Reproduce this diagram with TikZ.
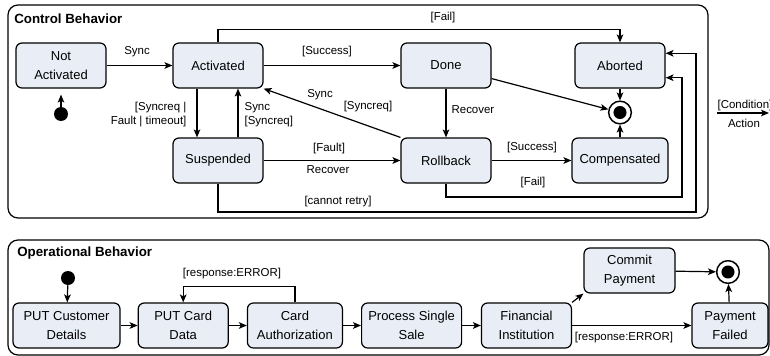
\documentclass[tikz,border=0pt]{standalone}
\usepackage{fontspec}
\setmainfont{Liberation Sans}
\usepackage{xcolor}
\usepackage{tikz}
\usetikzlibrary{
    arrows.meta,
    positioning,
    calc
}
\definecolor{statefill}{RGB}{233,238,246}
\tikzset{
    state/.style={
        draw,
        line width=0.9pt,
        rounded corners=4.5pt,
        minimum width=67.5pt,
        minimum height=33.75pt,
        align=center,
        fill=statefill,
        font=\fontsize{9.75}{14}\selectfont
    }
}
\tikzset{
    startdot/.style={
        circle,
        fill=black,
        inner sep=0pt,
        minimum size=10.5pt
    }
}
\tikzset{
    finalstate/.style={
        circle,
        draw,
        line width=1.1pt,
        fill=white,
        inner sep=0pt,
        minimum size=17pt,
        path picture={\fill[black] (path picture bounding box.center) circle (4.9pt);}
    }
}
\tikzset{
    behavior/.style={
        draw,
        line width=0.9pt,
        rounded corners=7.5pt
    }
}
\tikzset{
    caption/.style={
        font=\fontsize{10}{12}\selectfont\bfseries,
        inner sep=0pt
    }
}
\tikzset{
    guard/.style={
        font=\fontsize{8.6}{10.5}\selectfont,
        inner sep=1pt
    }
}
\tikzset{
    flow/.style={
        draw=black,
        line width=0.9pt,
        -{Stealth[length=6pt,width=5pt,inset=1.5pt]}
    }
}

\begin{document}
\begin{tikzpicture}[
    x=0.75pt,
    y=-0.75pt
]
\useasboundingbox (0,0) rectangle (770,356);

% control behavior
\draw[behavior] (8,5) rectangle (708,218);
\node[caption, anchor=base west] (ctitle) at (14,24) {Control Behavior};

\node[state] (notact) at (61,65.5) {Not\\Activated};
\node[state] (act) at (218,65.5) {Activated};
\node[state] (susp) at (218,160.5) {Suspended};
\node[state] (done) at (446,65.5) {Done};
\node[state] (roll) at (446,160.5) {Rollback};
\node[state] (abort) at (620,65.5) {Aborted};
\node[state, minimum width=72pt] (comp) at (620,160.5) {Compensated};
\node[startdot] (cstart) at (61,114) {};
\node[finalstate] (cfinal) at (620,112.5) {};

\coordinate (retrycorner) at (696,212);
\coordinate (failcorner) at (682,197);

\draw[flow, shorten >=4.5pt] (cstart) -- (notact);
\draw[flow] (notact) -- (act);
\draw[flow] (act) -- (done);
\draw[flow] ($(act.south)+(-21,0)$) -- ($(susp.north)+(-21,0)$);
\draw[flow] ($(susp.north)+(20,0)$) -- ($(act.south)+(20,0)$);
\draw[flow] (susp) -- (roll);
\draw[flow] (roll.north west) -- (act.south east);
\draw[flow] (done) -- (roll);
\draw[flow] (roll) -- (comp);
\draw[flow] (done.-16) -- (cfinal);
\draw[flow] (abort) -- (cfinal);
\draw[flow] (comp) -- (cfinal);
\draw[flow] (act.north) -- ++(0,-13) -| (abort.north);
\draw[flow] (susp.south) |- (retrycorner) |- (abort.15);
\draw[flow] (roll.south) |- (failcorner) |- (abort.-15);

\node[guard] (lsync) at (137,52) {Sync};
\node[guard] (lsuccess) at (327,52) {[Success]};
\node[guard] (ltopfail) at (443,18) {[Fail]};
\node[guard, align=right, anchor=east] (lsuspend) at (188,115) {[Syncreq |\\Fault | timeout]};
\node[guard, align=left, anchor=west] (lresume) at (243,115) {Sync\\{[Syncreq]}};
\node[guard] (lrsync) at (320,95) {Sync};
\node[guard] (lrsyncreq) at (368,107) {[Syncreq]};
\node[guard] (lfault) at (329,149) {[Fault]};
\node[guard] (lrecover) at (328,170) {Recover};
\node[guard] (lretry) at (338,202) {[cannot retry]};
\node[guard, anchor=west] (ldrecover) at (450,110) {Recover};
\node[guard] (lcompok) at (532,148) {[Success]};
\node[guard] (lrollfail) at (533,183) {[Fail]};

% legend
\coordinate (legstart) at (717,113);
\coordinate (legend) at (769,113);
\draw[flow] (legstart) -- (legend);
\node[guard] (lcond) at (745,106) {[Condition]};
\node[guard] (laction) at (744,123) {Action};

% operational behavior
\draw[behavior] (8,240) rectangle (769,355);
\node[caption, anchor=base west] (otitle) at (17,256) {Operational Behavior};

\node[state, minimum width=80.25pt] (customer) at (66.5,325.5) {PUT Customer\\Details};
\node[state, right=12.75pt of customer] (card) {PUT Card\\Data};
\node[state, minimum width=71.25pt, right=13.5pt of card] (cauth) {Card\\Authorization};
\node[state, minimum width=75pt, right=13.5pt of cauth] (process) {Process Single\\Sale};
\node[state, right=14pt of process] (fin) {Financial\\Institution};
\node[state, minimum width=68.25pt] (commit) at (629.5,270.5) {Commit\\Payment};
\node[state, minimum width=57pt] (payfail) at (730,325.5) {Payment\\Failed};
\node[startdot] (ostart) at (68,278) {};
\node[finalstate] (ofinal) at (728,272) {};

\draw[flow] (ostart) -- (customer);
\draw[flow] (customer) -- (card);
\draw[flow] (card) -- (cauth);
\draw[flow] (cauth) -- (process);
\draw[flow] (process) -- (fin);
\draw[flow] (cauth.north) -- ++(0,-16) -| (card.north);
\draw[flow] (fin.north east) -- (commit.south west);
\draw[flow] (fin) -- (payfail);
\draw[flow] (commit) -- (ofinal);
\draw[flow] (payfail) -- (ofinal);

\node[guard] (lcarderr) at (232,274) {[response:ERROR]};
\node[guard] (lfinerr) at (624,338) {[response:ERROR]};

\end{tikzpicture}
\end{document}
